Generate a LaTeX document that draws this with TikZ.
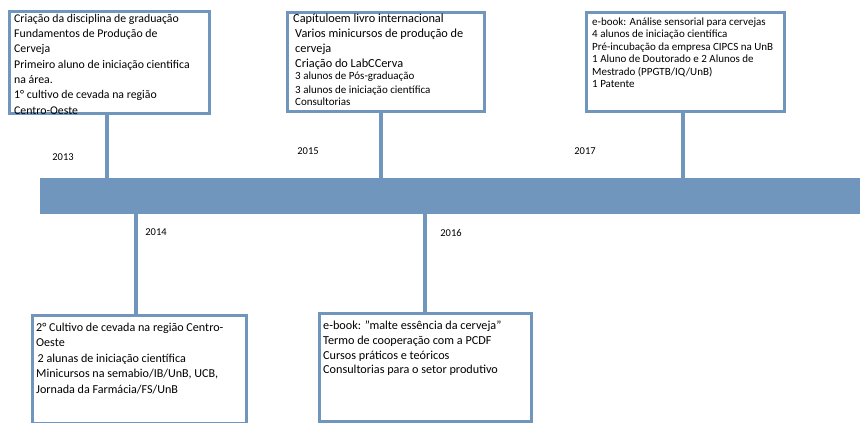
\documentclass[tikz,border=0pt]{standalone}
\usepackage{fontspec}
\setmainfont{Carlito}
\definecolor{tlblue}{RGB}{113,150,190}
\newcommand{\fs}[2]{\fontsize{#1}{#2}\selectfont}
\begin{document}
\begin{tikzpicture}[x=1pt,y=-1pt,
  evbox/.style={draw=tlblue, line width=3.4pt, fill=white, inner sep=0pt, anchor=north west},
  stem/.style={draw=tlblue, line width=4pt},
  txt/.style={anchor=base west, inner sep=0pt},
  year/.style={inner sep=0pt, font=\fs{10.5}{12}}]
\useasboundingbox (0,0) rectangle (860,423);
% bar
\node[fill=tlblue, inner sep=0pt, anchor=north west, minimum width=820pt, minimum height=36pt] (bar) at (40,178) {};
% boxes
\node[evbox, minimum width=200pt, minimum height=102pt] (b13) at (8,10) {};
\node[evbox, minimum width=197pt, minimum height=99pt] (b15) at (286,11) {};
\node[evbox, minimum width=198pt, minimum height=99pt] (b17) at (585,11) {};
\node[evbox, minimum width=214pt, minimum height=108pt] (b14) at (31,314) {};
\node[evbox, minimum width=212pt, minimum height=108pt] (b16) at (318,312) {};
% stem positions
\coordinate (s13) at (107,0);
\coordinate (s15) at (381,0);
\coordinate (s17) at (683,0);
\coordinate (s14) at (136,0);
\coordinate (s16) at (425,0);
\draw[stem] (b13.south -| s13) -- (bar.north -| s13);
\draw[stem] (b15.south -| s15) -- (bar.north -| s15);
\draw[stem] (b17.south -| s17) -- (bar.north -| s17);
\draw[stem] (bar.south -| s14) -- (b14.north -| s14);
\draw[stem] (bar.south -| s16) -- (b16.north -| s16);
% texts
\node[txt] (t13) at (14,22) {\parbox[t]{200pt}{\fs{11.8}{15.4}%
Criação da disciplina de graduação\par
Fundamentos de Produção de\par
Cerveja\par
Primeiro aluno de iniciação cientifica\par
na área.\par
1° cultivo de cevada na região\par
Centro-Oeste}};
\node[txt] (t15) at (293,22) {\parbox[t]{200pt}{\fs{12.3}{15}%
Capítuloem livro internacional\par
\hspace*{2pt}Varios minicursos de produção de\par
\hspace*{2pt}cerveja\par
\hspace*{2pt}Criação do LabCCerva\par
\fs{11}{13}\hspace*{2pt}3 alunos de Pós-graduação\par
\hspace*{2pt}3 alunos de iniciação científica\par
\hspace*{2pt}Consultorias}};
\node[txt] (t17) at (592,25.5) {\parbox[t]{200pt}{\fs{11}{12.4}%
e-book: Análise sensorial para cervejas\par
4 alunos de iniciação científica\par
Pré-incubação da empresa CIPCS na UnB\par
1 Aluno de Doutorado e 2 Alunos de\par
Mestrado (PPGTB/IQ/UnB)\par
1 Patente}};
\node[txt] (t14) at (36,331) {\parbox[t]{220pt}{\fs{12.1}{15.5}%
2° Cultivo de cevada na região Centro-\par
Oeste\par
\hspace*{1.5pt}2 alunas de iniciação científica\par
Minicursos na semabio/IB/UnB, UCB,\par
Jornada da Farmácia/FS/UnB}};
\node[txt] (t16) at (323,329.5) {\parbox[t]{220pt}{\fs{12.2}{14.8}%
e-book: "malte essência da cerveja"\par
Termo de cooperação com a PCDF\par
Cursos práticos e teóricos\par
Consultorias para o setor produtivo}};
% years
\node[year] (y13) at (63,157) {2013};
\node[year] (y15) at (308,151) {2015};
\node[year] (y17) at (585,151) {2017};
\node[year] (y14) at (156,232) {2014};
\node[year] (y16) at (451,233) {2016};
\end{tikzpicture}
\end{document}
